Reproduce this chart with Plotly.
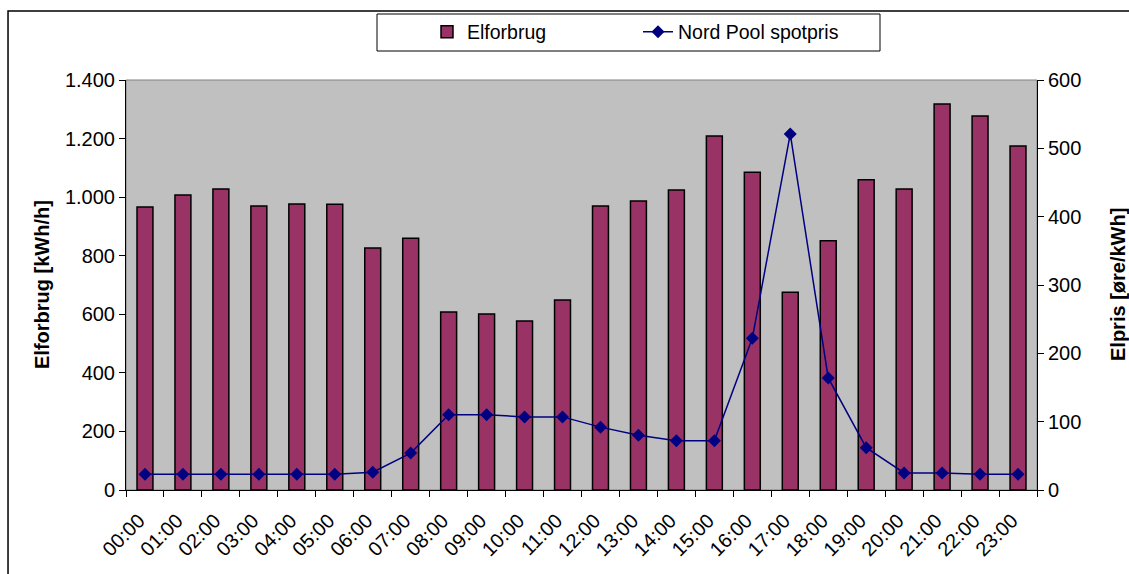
import plotly.graph_objects as go

hours = [f"{h:02d}:00" for h in range(24)]
elforbrug = [966, 1007, 1028, 970, 977, 976, 826, 860, 608, 601, 577, 649,
             970, 987, 1024, 1209, 1085, 675, 851, 1059, 1028, 1318, 1277, 1175]
spotpris = [23, 23, 23, 23, 23, 23, 26, 54, 110, 110, 107, 107,
            92, 80, 72, 72, 222, 521, 164, 62, 25, 25, 23, 23]

FONT = "Liberation Sans, Arial, sans-serif"
FS = 20

fig = go.Figure()
fig.add_trace(go.Bar(
    x=hours, y=elforbrug, name="Elforbrug",
    marker=dict(color="#993366", line=dict(color="#000000", width=1.5)),
))
fig.add_trace(go.Scatter(
    x=hours, y=spotpris, name="Nord Pool spotpris", yaxis="y2",
    mode="lines+markers",
    line=dict(color="#000080", width=1.5),
    marker=dict(symbol="diamond", size=10, color="#000080"),
))

fig.update_layout(
    width=1129, height=574,
    margin=dict(l=126, r=92, t=80, b=84),
    paper_bgcolor="white", plot_bgcolor="#C0C0C0",
    separators=",.",
    bargap=0.58,
    font=dict(family=FONT, size=FS, color="#000000"),
    showlegend=True,
    legend=dict(
        orientation="h", x=(427 - 126) / 911, xanchor="left",
        y=1.117, yanchor="middle",
        bgcolor="rgba(0,0,0,0)", borderwidth=0, entrywidth=166,
        font=dict(family=FONT, size=19.5),
    ),
    xaxis=dict(
        type="category", range=[-0.5, 23.5], tickson="boundaries",
        ticks="outside", ticklen=6, tickcolor="#000000", tickangle=-45,
        ticklabelstandoff=10, ticklabelshift=-6, showgrid=False,
        showline=True, linecolor="#000000", linewidth=1,
        tickfont=dict(family=FONT, size=FS),
    ),
    yaxis=dict(
        range=[0, 1400], dtick=200, tickformat=",d", ticks="outside",
        ticklen=6, tickcolor="#000000", showgrid=False, zeroline=False,
        showline=True, linecolor="#000000", linewidth=1,
        tickfont=dict(family=FONT, size=FS),
    ),
    yaxis2=dict(
        range=[0, 600], dtick=100, overlaying="y", side="right",
        ticks="outside", ticklen=6, tickcolor="#000000", showgrid=False,
        zeroline=False, showline=True, linecolor="#000000", linewidth=1,
        tickfont=dict(family=FONT, size=FS),
    ),
    shapes=[
        # chart frame
        dict(type="rect", xref="paper", yref="paper",
             x0=-0.1295, x1=1.2, y0=-0.3, y1=1.168,
             line=dict(color="#000000", width=1.5), fillcolor="rgba(0,0,0,0)",
             layer="below"),
        # plot area border
        dict(type="rect", xref="paper", yref="paper", x0=0, x1=1, y0=0, y1=1,
             line=dict(color="#808080", width=1), fillcolor="rgba(0,0,0,0)",
             layer="below"),
        # legend box
        dict(type="rect", xref="paper", yref="paper",
             x0=(377 - 126) / 911, x1=(880 - 126) / 911,
             y0=(490 - 51) / 410, y1=(490 - 14) / 410,
             line=dict(color="#000000", width=1), fillcolor="white",
             layer="below"),
    ],
    annotations=[
        dict(text="<b>Elforbrug [kWh/h]</b>", textangle=-90,
             xref="paper", yref="paper", x=(42 - 126) / 911, y=0.5,
             xanchor="center", yanchor="middle", showarrow=False,
             font=dict(family=FONT, size=FS)),
        dict(text="<b>Elpris [øre/kWh]</b>", textangle=-90,
             xref="paper", yref="paper", x=(1118 - 126) / 911, y=0.5,
             xanchor="center", yanchor="middle", showarrow=False,
             font=dict(family=FONT, size=FS)),
    ],
)

fig.write_html("out.html")
